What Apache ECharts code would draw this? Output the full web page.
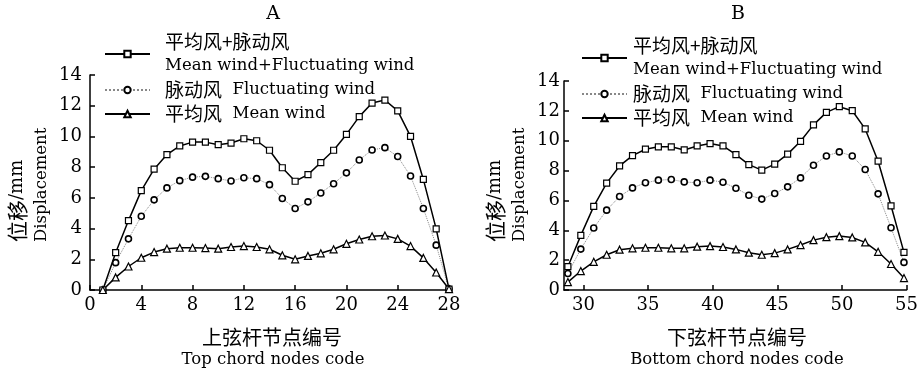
<!DOCTYPE html>
<html><head><meta charset="utf-8">
<script src="https://cdn.jsdelivr.net/npm/echarts@6/dist/echarts.min.js"></script>
<style>html,body{margin:0;padding:0;background:#fff}#c{width:921px;height:374px}</style>
</head><body><div id="c"></div>
<script>
// ---- Panel A: top chord nodes ----
const nodesA = [1,2,3,4,5,6,7,8,9,10,11,12,13,14,15,16,17,18,19,20,21,22,23,24,25,26,27,28];
const totalA = [0,2.43,4.52,6.47,7.87,8.82,9.38,9.63,9.63,9.46,9.57,9.85,9.72,9.10,7.96,7.08,7.51,8.30,9.10,10.13,11.29,12.17,12.37,11.66,10.0,7.2,3.98,0.06];
const fluctA = [0,1.78,3.33,4.80,5.87,6.65,7.12,7.35,7.40,7.25,7.10,7.31,7.25,6.86,5.96,5.31,5.74,6.32,6.92,7.63,8.47,9.12,9.27,8.69,7.42,5.31,2.92,0.06];
const meanA  = [0,0.82,1.53,2.10,2.47,2.69,2.75,2.75,2.73,2.69,2.80,2.86,2.80,2.65,2.26,2.00,2.22,2.39,2.65,3.01,3.29,3.50,3.55,3.33,2.86,2.09,1.14,0.06];
const xTicksA = [0,4,8,12,16,20,24,28];

// ---- Panel B: bottom chord nodes (x positions) ----
const nodesB = [28.8,29.8,30.8,31.8,32.8,33.8,34.8,35.8,36.8,37.8,38.8,39.8,40.8,41.8,42.8,43.8,44.8,45.8,46.8,47.8,48.8,49.8,50.8,51.8,52.8,53.8,54.8];
const totalB = [1.56,3.66,5.60,7.16,8.31,9.00,9.43,9.59,9.59,9.38,9.65,9.81,9.65,9.07,8.40,8.03,8.43,9.10,9.96,11.06,11.90,12.28,12.01,10.79,8.63,5.64,2.52];
const fluctB = [1.11,2.74,4.15,5.35,6.26,6.84,7.18,7.36,7.40,7.24,7.18,7.36,7.22,6.82,6.35,6.09,6.46,6.91,7.51,8.36,8.98,9.25,8.98,8.07,6.44,4.17,1.85];
const meanB  = [0.53,1.27,1.89,2.36,2.70,2.79,2.83,2.83,2.79,2.79,2.90,2.94,2.88,2.72,2.50,2.36,2.47,2.72,3.01,3.34,3.54,3.61,3.52,3.19,2.56,1.74,0.80];
const xTicksB = [30,35,40,45,50,55];
const yTicks = [0,2,4,6,8,10,12,14];

const legendLabels = {
  total: '{cn|平均风+脉动风}\n{en|Mean wind+Fluctuating wind}',
  fluct: '{cn|脉动风}{en|  Fluctuating wind}',
  mean:  '{cn|平均风}{en|  Mean wind}'
};
const titles = ['A', 'B'];
const xNamesCn = ['上弦杆节点编号', '下弦杆节点编号'];
const xNamesEn = ['Top chord nodes code', 'Bottom chord nodes code'];

const SERIF = 'DejaVu Serif';
const CJK = 'Noto Sans CJK SC';

function pairs(xs, ys) { return xs.map((x, i) => [x, ys[i]]); }

function series(kind, gi, xs, ys) {
  const base = {
    type: 'line', xAxisIndex: gi, yAxisIndex: gi,
    name: kind + (gi === 0 ? '' : 'B'),
    data: pairs(xs, ys), showSymbol: true, animation: false,
    itemStyle: { color: '#fff', borderColor: '#000', borderWidth: 1.2 },
    emphasis: { disabled: true }
  };
  if (kind === 'total') {
    base.symbol = 'rect'; base.symbolSize = 6;
    base.lineStyle = { color: '#000', width: 1.5 };
  } else if (kind === 'fluct') {
    base.symbol = 'circle'; base.symbolSize = 6;
    base.itemStyle.borderWidth = 1.6;
    base.lineStyle = { color: '#888', width: 1, type: 'dotted' };
  } else {
    base.symbol = 'triangle'; base.symbolSize = 7;
    base.lineStyle = { color: '#000', width: 1.5 };
  }
  base.z = kind === 'fluct' ? 2 : 3;
  return base;
}

const axisLine = { show: true, onZero: false, lineStyle: { color: '#000', width: 1.5 } };
const axisTick = { show: true, inside: true, length: 5, lineStyle: { color: '#000', width: 1.5 } };
const tickFont = { color: '#000', fontFamily: SERIF, fontSize: 18 };

const richLegend = {
  cn: { fontFamily: CJK, fontSize: 19, lineHeight: 24, color: '#000' },
  en: { fontFamily: SERIF, fontSize: 16.5, lineHeight: 24, color: '#000' }
};

function legend(gi, left, top, pad) {
  const names = ['total', 'fluct', 'mean'].map(n => n + (gi === 0 ? '' : 'B'));
  return {
    show: true, orient: 'vertical', left: left, top: top, padding: 0,
    itemGap: 0, itemWidth: 45, itemHeight: 8, selectedMode: false,
    data: names,
    formatter: n => legendLabels[n.replace(/B$/, '')],
    textStyle: { color: '#000', lineHeight: 24, padding: [0, 0, 0, pad], rich: richLegend }
  };
}

function textEl(x, y, text, font, size, extra) {
  return Object.assign({
    type: 'text', x: x, y: y, silent: true,
    style: { text: text, fontFamily: font, fontSize: size, fill: '#000', align: 'center', verticalAlign: 'middle' }
  }, extra || {});
}

function yName(x, y) {
  return {
    type: 'text', x: x, y: y, rotation: Math.PI / 2, silent: true,
    style: {
      text: '{c|位移}{e|/mm}', align: 'left', verticalAlign: 'middle', fill: '#000',
      rich: { c: { fontFamily: CJK, fontSize: 21, fill: '#000' }, e: { fontFamily: SERIF, fontSize: 18, fill: '#000' } }
    }
  };
}
function yName2(x, y) {
  return {
    type: 'text', x: x, y: y, rotation: Math.PI / 2, silent: true,
    style: { text: 'Displacement', fontFamily: SERIF, fontSize: 16.5, fill: '#000', align: 'left', verticalAlign: 'middle' }
  };
}

const option = {
  animation: false,
  backgroundColor: '#fff',
  grid: [
    { left: 90, top: 75, width: 359, height: 215 },
    { left: 564, top: 81, width: 344, height: 209 }
  ],
  xAxis: [
    { gridIndex: 0, type: 'value', min: 0, max: 28, interval: 4, splitLine: { show: false },
      axisLine, axisTick, axisLabel: Object.assign({ margin: 6 }, tickFont) },
    { gridIndex: 1, type: 'value', min: 28.5, max: 55, splitLine: { show: false },
      axisLine,
      axisTick: Object.assign({ customValues: xTicksB }, axisTick),
      axisLabel: Object.assign({ margin: 6, customValues: xTicksB }, tickFont) }
  ],
  yAxis: [
    { gridIndex: 0, type: 'value', min: 0, max: 14, interval: 2, splitLine: { show: false },
      axisLine, axisTick, axisLabel: Object.assign({ margin: 8 }, tickFont) },
    { gridIndex: 1, type: 'value', min: 0, max: 14, interval: 2, splitLine: { show: false },
      axisLine, axisTick, axisLabel: Object.assign({ margin: 4 }, tickFont) }
  ],
  legend: [legend(0, 104, 30, 10), legend(1, 581, 34, 1)],
  series: [
    series('fluct', 0, nodesA, fluctA),
    series('total', 0, nodesA, totalA),
    series('mean', 0, nodesA, meanA),
    series('fluct', 1, nodesB, fluctB),
    series('total', 1, nodesB, totalB),
    series('mean', 1, nodesB, meanB)
  ],
  graphic: [
    textEl(273, 14, titles[0], SERIF, 19),
    textEl(738, 14, titles[1], SERIF, 19),
    textEl(272, 337, xNamesCn[0], CJK, 20),
    textEl(273, 360, xNamesEn[0], SERIF, 16.5),
    textEl(737, 337, xNamesCn[1], CJK, 20),
    textEl(737, 360, xNamesEn[1], SERIF, 16.5),
    yName(17, 242), yName2(42, 242),
    yName(495, 242), yName2(520, 242)
  ]
};
const chart = echarts.init(document.getElementById('c'), null, { renderer: 'canvas' });
chart.setOption(option);
</script>
</body></html>
